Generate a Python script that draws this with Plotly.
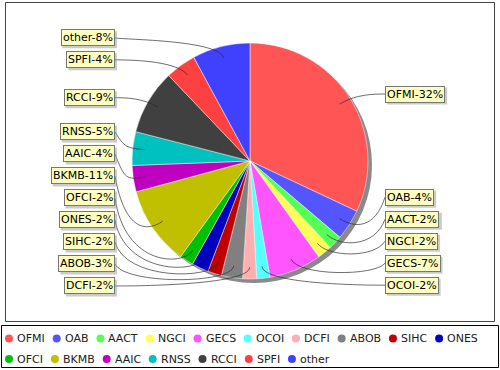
import math
import plotly.graph_objects as go

# ---------------- data ----------------
CATEGORIES = ["OFMI", "OAB", "AACT", "NGCI", "GECS", "OCOI", "DCFI", "ABOB", "SIHC",
              "ONES", "OFCI", "BKMB", "AAIC", "RNSS", "RCCI", "SPFI", "other"]
VALUES = [32.0, 4.2, 1.9, 2.0, 7.2, 1.8, 1.9, 2.9, 1.9,
          2.3, 1.9, 10.8, 3.6, 4.6, 8.9, 4.2, 7.9]
LEGEND_ROW_SIZES = [10, 7]

# ---------------- styles / layout ----------------
COLORS = ["#FF5555", "#5555FF", "#55FF55", "#FFFF55", "#FF55FF", "#55FFFF", "#FFAFAF",
          "#808080", "#C00000", "#0000C0", "#00C000", "#C0C000", "#C000C0", "#00C0C0",
          "#404040", "#FF4040", "#4040FF"]
FONT = "DejaVu Sans"
W, H = 500, 370
CX, CY, R = 250, 161, 118
LINK_R = 125
LINK_PCT = 0.9
LABEL_GAP = 10
LABEL_STEP = 22
LABEL_FS = 11
LABEL_BOX_H = 17

# DejaVu Sans advance widths (em) for layout estimates
CHAR_W = {"A": .684, "B": .686, "C": .698, "D": .770, "E": .632, "F": .575, "G": .775,
          "H": .752, "I": .295, "K": .656, "M": .863, "N": .748, "O": .787, "P": .603,
          "R": .695, "S": .635, "T": .611, "o": .612, "t": .392, "h": .634, "e": .615,
          "r": .411, "-": .361, "%": .950}
for d in "0123456789":
    CHAR_W[d] = .636


def px(x):
    return x / W


def py(y):
    return 1 - y / H


def text_w(s, size):
    return sum(CHAR_W.get(c, 0.6) for c in s) * size


total = sum(VALUES)
fig = go.Figure()
fig.add_trace(go.Pie(
    labels=CATEGORIES, values=VALUES, sort=False, direction="clockwise", rotation=0,
    marker=dict(colors=COLORS, line=dict(color="rgba(255,255,255,0.6)", width=0.8)),
    textinfo="none", hoverinfo="label+percent", showlegend=False,
    domain=dict(x=[px(CX - R), px(CX + R)], y=[py(CY + R), py(CY - R)]),
))

shapes = []
annotations = []

# plot border
shapes.append(dict(type="rect", xref="paper", yref="paper", x0=px(5.5), x1=px(494.5),
                   y0=py(2.5), y1=py(321.5), line=dict(color="#444", width=1), layer="below"))
# pie shadow
shapes.append(dict(type="circle", xref="paper", yref="paper",
                   x0=px(CX - R + 4), x1=px(CX + R + 4), y0=py(CY + R + 4), y1=py(CY - R + 4),
                   fillcolor="#8a8a8a", line=dict(width=0), layer="below"))

# label geometry
cum = 0.0
recs = []
for name, v in zip(CATEGORIES, VALUES):
    th = 2 * math.pi * (cum + v / 2) / total
    cum += v
    pct = round(v / total * 100)
    side = "right" if th < math.pi else "left"
    recs.append(dict(name=name, th=th, pct=pct, side=side,
                     nat=CY - LINK_R * math.cos(th)))

for side in ("right", "left"):
    items = sorted([r for r in recs if r["side"] == side], key=lambda r: -r["nat"])
    prev = None
    for r in items:
        y = r["nat"] if prev is None else min(r["nat"], prev - LABEL_STEP)
        r["y"] = y
        prev = y

for r in recs:
    th = r["th"]
    sgn = 1 if r["side"] == "right" else -1
    tx = CX + sgn * (LINK_R + LABEL_GAP)
    ty = r["y"]
    ax = CX + sgn * LINK_R
    ex, ey = CX + LINK_R * math.sin(th), CY - LINK_R * math.cos(th)
    lx, ly = CX + R * LINK_PCT * math.sin(th), CY - R * LINK_PCT * math.cos(th)
    path = (f"M {px(tx)},{py(ty)} C {px(ax)},{py(ey)} {px(ex)},{py(ey)} "
            f"{px(lx)},{py(ly)}")
    shapes.append(dict(type="path", xref="paper", yref="paper", path=path,
                       line=dict(color="rgba(40,40,40,0.75)", width=0.9), layer="above"))
    txt = f"{r['name']}-{r['pct']}%"
    anchor = "left" if sgn == 1 else "right"
    # label shadow (rectangle behind the box)
    bw = text_w(txt, LABEL_FS) + 4
    bx0 = tx if sgn == 1 else tx - bw
    shapes.append(dict(type="rect", xref="paper", yref="paper",
                       x0=px(bx0 + 2), x1=px(bx0 + bw + 2),
                       y0=py(ty + LABEL_BOX_H / 2 + 2), y1=py(ty - LABEL_BOX_H / 2 + 2),
                       fillcolor="rgba(151,151,151,0.5)", line=dict(width=0), layer="above"))
    annotations.append(dict(x=px(tx), y=py(ty), xref="paper", yref="paper", text=txt,
                            showarrow=False, xanchor=anchor, yanchor="middle",
                            bgcolor="#FFFFC0", bordercolor="#777", borderwidth=1, borderpad=1,
                            font=dict(family=FONT, size=LABEL_FS, color="#000")))

# legend (manual, to mimic the reference's compact layout)
shapes.append(dict(type="rect", xref="paper", yref="paper", x0=px(1.5), x1=px(498.5),
                   y0=py(325.5), y1=py(367.5), line=dict(color="#000", width=1),
                   fillcolor="white", layer="below"))
row_y = [338.5, 359]
idx = 0
for row, n in enumerate(LEGEND_ROW_SIZES):
    x = 5
    for _ in range(n):
        name, col = CATEGORIES[idx], COLORS[idx]
        yy = row_y[row]
        shapes.append(dict(type="circle", xref="paper", yref="paper",
                           x0=px(x), x1=px(x + 8), y0=py(yy + 4), y1=py(yy - 4),
                           fillcolor=col, line=dict(width=0), layer="above"))
        annotations.append(dict(x=px(x + 12), y=py(yy), xref="paper", yref="paper",
                                text=name, showarrow=False, xanchor="left", yanchor="middle",
                                borderpad=0, borderwidth=0,
                                font=dict(family=FONT, size=11, color="#222")))
        x = x + 12 + text_w(name, 11) + 8
        idx += 1

fig.update_layout(
    width=W, height=H, autosize=False,
    margin=dict(l=0, r=0, t=0, b=0),
    paper_bgcolor="white", plot_bgcolor="white",
    shapes=shapes, annotations=annotations, showlegend=False,
    font=dict(family=FONT, size=11),
)

fig.write_html("out.html", config={"displayModeBar": False},
               post_script="document.body.style.margin='0';")
